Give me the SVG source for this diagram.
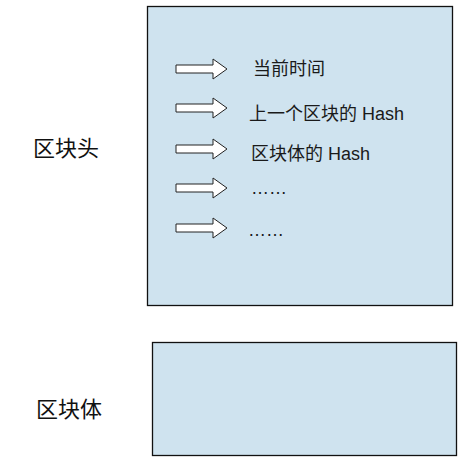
<svg xmlns="http://www.w3.org/2000/svg" width="468" height="462" viewBox="0 0 468 462">
<style>
.box{fill:#cfe3ef;stroke:#111;stroke-width:1.3}
.arr{fill:#fff;stroke:#222;stroke-width:1}
.t{font-family:"Liberation Sans","Noto Sans CJK SC",sans-serif;font-size:18px;fill:#1a1a1a}
.big{font-family:"Noto Sans CJK SC",sans-serif;font-size:22px;fill:#111}
</style>
<defs>
<path id="a" d="M0,-4 L37,-4 L37,-10 L51,0 L37,10 L37,4 L0,4 Z"/>
</defs>
<g id="header">
<rect class="box" x="147.5" y="6.5" width="305" height="299"/>
<text class="big" x="33" y="156">区块头</text>
</g>
<g id="body">
<rect class="box" x="152.5" y="342.5" width="304" height="113"/>
<text class="big" x="36" y="417">区块体</text>
</g>
<g id="connectors">
<use href="#a" class="arr" x="176" y="69"/>
<use href="#a" class="arr" x="176" y="108"/>
<use href="#a" class="arr" x="176" y="149"/>
<use href="#a" class="arr" x="176" y="188"/>
<use href="#a" class="arr" x="176" y="228"/>
</g>
<g id="fields">
<text class="t" x="253" y="75">当前时间</text>
<text class="t" x="249" y="120">上一个区块的 Hash</text>
<text class="t" x="251" y="160">区块体的 Hash</text>
<text class="t" x="251" y="194">……</text>
<text class="t" x="248" y="236">……</text>
</g>
</svg>
